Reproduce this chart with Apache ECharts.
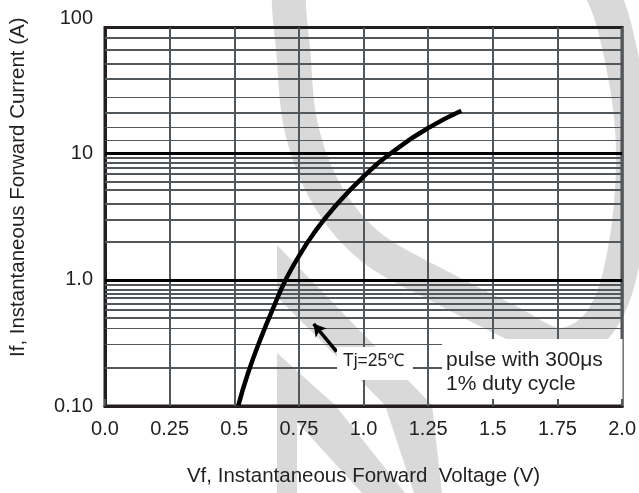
<!DOCTYPE html>
<html>
<head>
<meta charset="utf-8">
<script src="https://cdn.jsdelivr.net/npm/echarts@6/dist/echarts.min.js"></script>
<style>
html,body{margin:0;padding:0;background:#fff;}
#chart{width:639px;height:493px;}
</style>
</head>
<body>
<div id="chart"></div>
<script>
// ---- data ----
const voltage = [0.515, 0.553, 0.604, 0.655, 0.699, 0.75, 0.807, 0.883, 0.997, 1.112, 1.251, 1.378];
const current = [0.1, 0.182, 0.35, 0.628, 1.0, 1.54, 2.33, 3.68, 6.5, 10.3, 16.0, 21.9];
const yTickLabels = ['0.10', '1.0', '10', '100'];
const decadeLines = [1, 10];
const minorLinesThick = [2, 3, 4, 5.2, 6, 6.9, 7.7, 8.4, 9.2, 21, 39, 52, 67, 83, 0.2, 0.5, 0.58, 0.65, 0.72, 0.77, 0.83, 0.91];
const minorLinesThin = [12.7, 16.2, 28, 0.31, 0.41];
const arrowFrom = [0.896, 0.27];
const arrowTo = [0.807, 0.448];
const annotTj = 'Tj=25\u2103';
const annotPulse = 'pulse with 300\u03bcs\n1% duty cycle';
const xTitle = 'Vf, Instantaneous Forward  Voltage (V)';
const yTitle = 'If, Instantaneous Forward Current (A)';

const FONT = "'Liberation Sans', Arial, sans-serif";
const TXT = '#231f20';
const GRID = '#51575a';

const curveData = voltage.map((v, i) => [v, current[i]]);

const lineItems = [];
decadeLines.forEach(v => lineItems.push({ yAxis: v, lineStyle: { color: '#000', width: 3, type: 'solid' } }));
minorLinesThick.forEach(v => lineItems.push({ yAxis: v, lineStyle: { color: GRID, width: 2, type: 'solid' } }));
minorLinesThin.forEach(v => lineItems.push({ yAxis: v, lineStyle: { color: GRID, width: 1.2, type: 'solid' } }));
lineItems.push([
  { coord: arrowFrom, symbol: 'none', lineStyle: { color: '#000', width: 3.5, type: 'solid' } },
  { coord: arrowTo, symbol: 'arrow', symbolSize: [11, 12] }
]);

// decorative light-gray watermark (background only)
const wmColor = '#d9d9d9';
const ringPts = [[293,-30],[294,60],[303,135],[330,200],[372,248],[441,287],[510,322],[560,345],[600,322],[624,255],[633,150],[622,60],[598,-15],[540,-80],[430,-110],[340,-80]];
const stripeA = [[277,245],[432,405],[442,493],[414,493],[385,405],[277,297]];
const stripeB = [[277,353],[335,405],[405,493],[362,493],[297,422],[297,493],[277,493]];

const chart = echarts.init(document.getElementById('chart'), null, { renderer: 'canvas' });
chart.setOption({
  backgroundColor: '#fff',
  animation: false,
  textStyle: { fontFamily: FONT },
  grid: { left: 100, right: 14, top: 27.5, bottom: 87, show: true, borderColor: '#231f20', borderWidth: 3, backgroundColor: 'transparent' },
  xAxis: [
    {
      type: 'value', min: 0, max: 2, interval: 0.25,
      axisLine: { show: false }, axisTick: { show: false }, axisLabel: { show: false },
      splitLine: { show: true, lineStyle: { color: GRID, width: 2 } },
      z: 0
    },
    {
      type: 'value', min: 0, max: 2, interval: 0.25, position: 'bottom',
      axisLine: { show: true, onZero: false, lineStyle: { color: '#231f20', width: 3 } },
      axisTick: { show: true, inside: true, length: 7, lineStyle: { color: GRID, width: 2 } },
      splitLine: { show: false },
      axisLabel: {
        color: TXT, fontSize: 20, fontFamily: FONT, margin: 13,
        formatter: v => (Number.isInteger(v) ? v.toFixed(1) : String(v))
      },
      name: xTitle, nameLocation: 'middle', nameGap: 60,
      nameTextStyle: { color: TXT, fontSize: 20.5, fontFamily: FONT },
      z: 20
    }
  ],
  yAxis: {
    type: 'log', logBase: 10, min: 0.1, max: 100,
    axisLine: { show: true, onZero: false, lineStyle: { color: '#231f20', width: 3 } },
    axisTick: { show: false },
    splitLine: { show: false },
    axisLabel: {
      color: TXT, fontSize: 20, fontFamily: FONT, margin: 12,
      formatter: v => {
        const idx = Math.round(Math.log10(v)) + 1;
        const s = yTickLabels[idx];
        return idx === 3 ? '{t|' + s + '}' : s;
      },
      rich: { t: { fontSize: 20, fontFamily: FONT, color: TXT, padding: [0, 0, 19, 0] } }
    },
    name: yTitle, nameLocation: 'middle', nameGap: 76,
    nameTextStyle: { color: TXT, fontSize: 20.5, fontFamily: FONT, padding: [0, 0, 0, 59] }
  },
  series: [{
    type: 'line', data: curveData, smooth: 0.5, showSymbol: false, symbol: 'none',
    lineStyle: { color: '#000', width: 4.5, cap: 'butt' }, z: 5,
    markLine: { silent: true, symbol: ['none', 'none'], label: { show: false }, animation: false, data: lineItems }
  }],
  graphic: [
    { type: 'polygon', z: -10, silent: true, shape: { points: ringPts, smooth: 0.35 }, style: { fill: 'none', stroke: wmColor, lineWidth: 34 } },
    { type: 'polygon', z: -10, silent: true, shape: { points: stripeA }, style: { fill: wmColor } },
    { type: 'polygon', z: -10, silent: true, shape: { points: stripeB }, style: { fill: wmColor } },
    { type: 'rect', z: 10, silent: true, shape: { x: 442, y: 339, width: 180.5, height: 65 }, style: { fill: '#fff' } },
    { type: 'rect', z: 10, silent: true, shape: { x: 337, y: 347, width: 76, height: 33 }, style: { fill: '#fff' } },
    { type: 'text', z: 11, silent: true, x: 343, y: 361, style: { text: annotTj, fill: TXT, font: "17.5px 'Liberation Sans', Arial, sans-serif", verticalAlign: 'middle', align: 'left' } },
    { type: 'text', z: 11, silent: true, x: 446, y: 372, style: { text: annotPulse, fill: TXT, font: "21px 'Liberation Sans', Arial, sans-serif", lineHeight: 23.5, verticalAlign: 'middle', align: 'left' } }
  ]
});
</script>
</body>
</html>
